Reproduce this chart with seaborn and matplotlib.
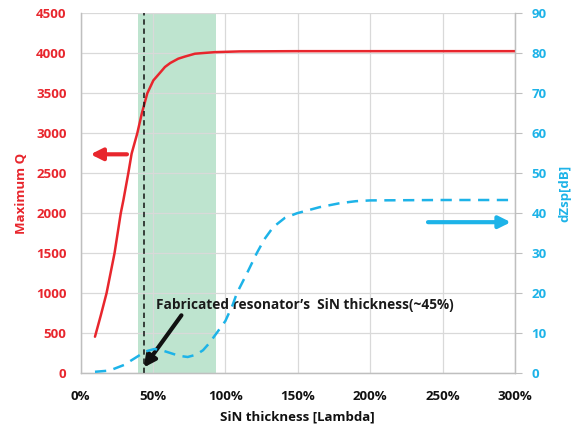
import numpy as np
import pandas as pd
import matplotlib
matplotlib.use("Agg")
import matplotlib.pyplot as plt
import seaborn as sns

# SiN thickness (% of lambda) vs maximum Q (left axis)
q_x = [10, 14, 18, 23.5, 27.8, 29.6, 33, 35.3, 39.2, 42.3, 46.1, 50.3, 55, 58.3, 62, 67.5, 72, 79, 85, 93, 110, 150, 200, 250, 300]
q_y = [454, 720, 1000, 1500, 2000, 2162, 2500, 2746, 3000, 3246, 3500, 3662, 3760, 3830, 3880, 3934, 3960, 3996, 4005, 4016, 4025, 4028, 4028, 4028, 4028]

# SiN thickness vs dZsp in dB (right axis)
dz_x = [10, 20, 30, 41, 46, 51, 56, 62, 68, 74, 80, 84.6, 89, 93, 100, 105, 108, 115, 121.7, 127, 133, 141, 149.6, 165, 179, 190, 200, 250, 300]
dz_y = [0.3, 0.6, 2, 4.5, 5.5, 6, 5.7, 5, 4.3, 4, 4.6, 5.7, 7.5, 9.5, 13, 17, 20, 25, 30, 33.5, 36.5, 38.8, 40, 41.5, 42.5, 43, 43.2, 43.3, 43.3]

x_ticks = [0, 50, 100, 150, 200, 250, 300]
x_labels = ["0%", "50%", "100%", "150%", "200%", "250%", "300%"]
q_ticks = list(range(0, 4501, 500))
dz_ticks = list(range(0, 91, 10))

band = (39.7, 93.4)   # shaded range
fab_x = 44            # fabricated thickness

RED = "#e8262d"
BLUE = "#1db3e8"
GREEN = "#a9dbc0"

sns.set_style("white")
plt.rcParams["font.family"] = ["Open Sans", "DejaVu Sans"]
plt.rcParams["font.weight"] = "bold"

fig = plt.figure(figsize=(5.75, 4.34), dpi=100)
ax = fig.add_axes([0.14, 0.1406, 0.7557, 0.8284])
ax2 = ax.twinx()

ax.axvspan(band[0], band[1], color=GREEN, alpha=0.75, lw=0, zorder=0)
ax.grid(True, color="#d9d9d9", lw=0.9)
ax.set_axisbelow(True)

sns.lineplot(x=q_x, y=q_y, ax=ax, color=RED, lw=1.8, zorder=3)
sns.lineplot(x=dz_x, y=dz_y, ax=ax2, color=BLUE, lw=1.8, zorder=3)
ax2.lines[0].set_dashes([4.5, 3])
ax.lines[0].set_solid_joinstyle("round")

ax.axvline(fab_x, color="#111111", lw=1.1, ls=(0, (3.5, 2.5)), zorder=4)

ax.set_xlim(0, 300)
ax.set_ylim(0, 4500)
ax2.set_ylim(0, 90)
ax.set_xticks(x_ticks, x_labels)
ax.set_yticks(q_ticks)
ax2.set_yticks(dz_ticks)

ax.tick_params(axis="x", length=0, pad=12, labelsize=9.5, labelcolor="#111111")
ax.tick_params(axis="y", length=0, pad=10, labelsize=9.5, labelcolor=RED)
ax2.tick_params(axis="y", length=5, color="#bfbfbf", pad=7, labelsize=9.5, labelcolor=BLUE)

for a in (ax, ax2):
    a.spines["top"].set_visible(False)
    for s in ("left", "bottom", "right"):
        a.spines[s].set_color("#bfbfbf")
        a.spines[s].set_linewidth(0.9)

ax.set_xlabel("SiN thickness [Lambda]", fontsize=9.5, fontweight="bold", color="#111111", labelpad=6)
ax.set_ylabel("Maximum Q", fontsize=9.5, fontweight="bold", color=RED, labelpad=6)
ax2.set_ylabel("dZsp[dB]", fontsize=9.5, fontweight="bold", color=BLUE, labelpad=8)

ax.annotate("", xy=(5, 2737), xytext=(34, 2737),
            arrowprops=dict(arrowstyle="-|>,head_length=0.7,head_width=0.35", color=RED, lw=3))
ax2.annotate("", xy=(299, 37.75), xytext=(238, 37.75),
             arrowprops=dict(arrowstyle="-|>,head_length=0.7,head_width=0.35", color=BLUE, lw=3))
ax.annotate("", xy=(42.5, 40), xytext=(70.8, 750),
            arrowprops=dict(arrowstyle="-|>,head_length=0.7,head_width=0.35", color="#111111", lw=3),
            zorder=6)
ax.text(52, 850, "Fabricated resonator\u2019s  SiN thickness(~45%)", fontsize=9.8,
        fontweight="bold", color="#1a1a1a", va="center", ha="left", zorder=6)

fig.savefig("out.png", dpi=100)
